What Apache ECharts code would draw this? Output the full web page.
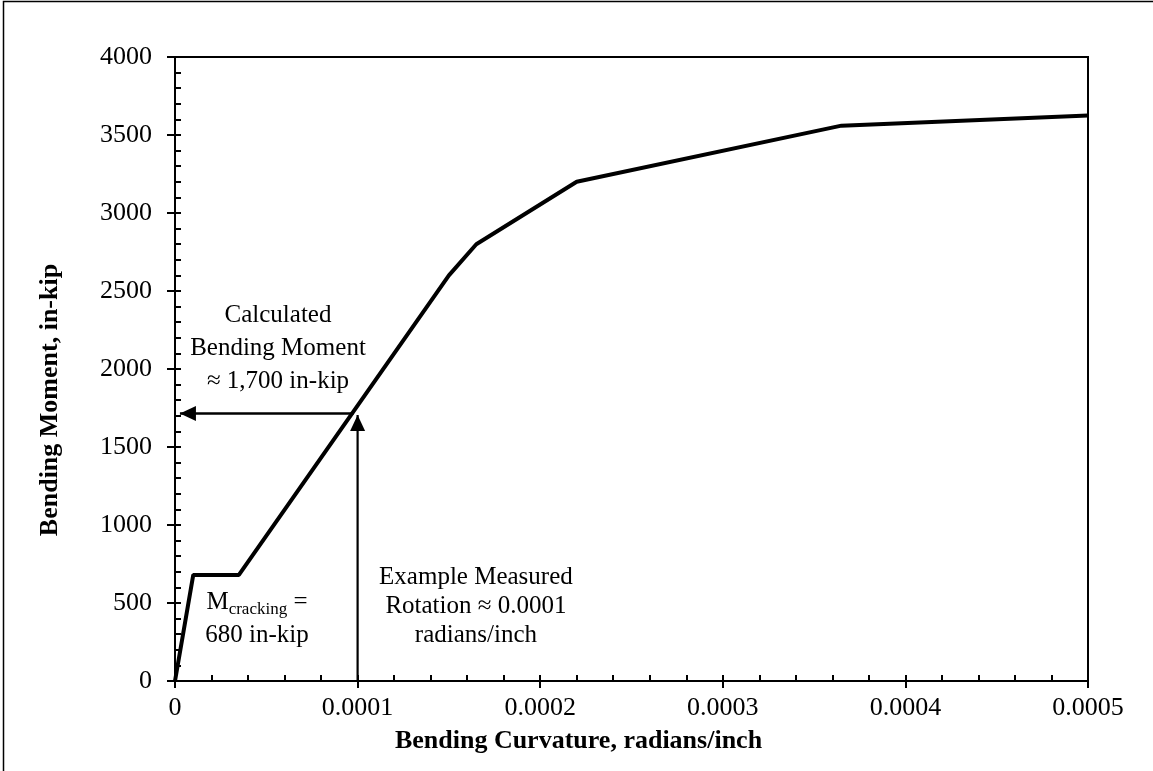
<!DOCTYPE html>
<html>
<head>
<meta charset="utf-8">
<script src="https://cdn.jsdelivr.net/npm/echarts@6/dist/echarts.min.js"></script>
<style>
html,body{margin:0;padding:0;background:#fff;}
#chart{width:1153px;height:771px;}
</style>
</head>
<body>
<div id="chart"></div>
<script>
// ---- data ----
const curvature = [0, 0.00001, 0.000035, 0.00015, 0.000165, 0.00022, 0.000365, 0.0005];
const moment    = [0, 680, 680, 2600, 2800, 3200, 3560, 3625];

const xTickLabels = ['0', '0.0001', '0.0002', '0.0003', '0.0004', '0.0005'];
const yTickLabels = ['0', '500', '1000', '1500', '2000', '2500', '3000', '3500', '4000'];

// annotation arrows: [start, tip]
const momentArrow   = [[0.0000978, 1715], [0.0000027, 1715]];
const rotationArrow = [[0.0001, 0], [0.0001, 1705]];

// annotation texts and their anchor points (data units)
const noteTexts = [
  'Calculated\nBending Moment\n≈ 1,700 in-kip',
  '{m|M}{sub|cracking}{m| =}\n{m|680 in-kip}',
  'Example Measured\nRotation ≈ 0.0001\nradians/inch'
];
const noteX = [0.0000564, 0.0000449, 0.0001648];
const noteY = [2135, 401, 481];

const xTitle = 'Bending Curvature, radians/inch';
const yTitle = 'Bending Moment, in-kip';

// ---- chart ----
const FONT = 'Liberation Serif';
const xInt = 0.0001, yInt = 500;
const chart = echarts.init(document.getElementById('chart'), null, {renderer: 'canvas'});

const curveData = curvature.map((c, i) => [c, moment[i]]);

const baseX = {type: 'value', min: 0, max: 0.0005, interval: xInt, position: 'bottom', splitLine: {show: false}};
const baseY = {type: 'value', min: 0, max: 4000, interval: yInt, position: 'left', splitLine: {show: false}};

const option = {
  animation: false,
  backgroundColor: '#fff',
  grid: {left: 175, right: 65, top: 57, bottom: 90, show: true, borderColor: '#000', borderWidth: 2, containLabel: false, outerBoundsMode: 'none'},
  xAxis: [
    Object.assign({}, baseX, {
      axisLine: {show: true, lineStyle: {color: '#000', width: 2}},
      axisTick: {show: true, inside: false, length: 7, lineStyle: {color: '#000', width: 2}},
      minorTick: {show: false},
      axisLabel: {show: true, margin: 14, color: '#000', fontFamily: FONT, fontSize: 26,
        formatter: v => xTickLabels[Math.round(v / xInt)]},
      name: xTitle, nameLocation: 'middle', nameGap: 47,
      nameTextStyle: {color: '#000', fontFamily: FONT, fontSize: 26, fontWeight: 'bold', padding: [0, 106, 0, 0]}
    }),
    Object.assign({}, baseX, {
      axisLine: {show: false},
      axisTick: {show: true, inside: true, length: 6, lineStyle: {color: '#000', width: 2}},
      minorTick: {show: true, splitNumber: 5, length: 6, lineStyle: {color: '#000', width: 2}},
      axisLabel: {show: false}
    })
  ],
  yAxis: [
    Object.assign({}, baseY, {
      axisLine: {show: true, lineStyle: {color: '#000', width: 2}},
      axisTick: {show: true, inside: false, length: 8, lineStyle: {color: '#000', width: 2}},
      minorTick: {show: false},
      axisLabel: {show: true, margin: 23, color: '#000', fontFamily: FONT, fontSize: 26,
        formatter: v => yTickLabels[Math.round(v / yInt)]},
      name: yTitle, nameLocation: 'middle', nameGap: 112, nameRotate: 90,
      nameTextStyle: {color: '#000', fontFamily: FONT, fontSize: 26, fontWeight: 'bold', padding: [0, 62, 0, 0]}
    }),
    Object.assign({}, baseY, {
      axisLine: {show: false},
      axisTick: {show: true, inside: true, length: 6, lineStyle: {color: '#000', width: 2}},
      minorTick: {show: true, splitNumber: 5, length: 6, lineStyle: {color: '#000', width: 2}},
      axisLabel: {show: false}
    })
  ],
  series: [
    {
      name: 'Moment-curvature', type: 'line', xAxisIndex: 0, yAxisIndex: 0,
      data: curveData, symbol: 'none', lineStyle: {color: '#000', width: 4}, z: 5
    },
    {
      name: 'moment arrow', type: 'line', xAxisIndex: 0, yAxisIndex: 0,
      data: momentArrow, symbol: 'none', lineStyle: {color: '#000', width: 2.5}, z: 4
    },
    {
      name: 'rotation arrow', type: 'line', xAxisIndex: 0, yAxisIndex: 0,
      data: rotationArrow, symbol: 'none', lineStyle: {color: '#000', width: 2.2}, z: 4
    },
    {
      name: 'arrow heads', type: 'scatter', xAxisIndex: 0, yAxisIndex: 0, z: 6,
      itemStyle: {color: '#000', opacity: 1},
      data: [
        {value: momentArrow[1], symbol: 'triangle', symbolSize: [15, 16], symbolRotate: 90, symbolOffset: [8, 0]},
        {value: rotationArrow[1], symbol: 'triangle', symbolSize: [15, 16], symbolRotate: 0, symbolOffset: [0, 8]}
      ]
    },
    {
      name: 'notes', type: 'scatter', xAxisIndex: 0, yAxisIndex: 0, z: 7,
      symbolSize: 0, itemStyle: {color: '#fff', opacity: 1},
      data: noteTexts.map((t, i) => ({
        value: [noteX[i], noteY[i]],
        label: {
          show: true, position: 'inside', formatter: t, color: '#000', opacity: 1,
          fontFamily: FONT, fontSize: 25, align: 'center', verticalAlign: 'middle',
          lineHeight: i === 2 ? 29 : 33,
          rich: {
            m: {fontFamily: FONT, fontSize: 25, color: '#000', lineHeight: 33},
            sub: {fontFamily: FONT, fontSize: 17, color: '#000', lineHeight: 22, verticalAlign: 'bottom'}
          }
        }
      }))
    }
  ],
  graphic: [
    {type: 'rect', shape: {x: 3.5, y: 1.5, width: 1200, height: 900}, style: {fill: 'none', stroke: '#000', lineWidth: 1.5}, silent: true, z: 100}
  ]
};
chart.setOption(option);
</script>
</body>
</html>
